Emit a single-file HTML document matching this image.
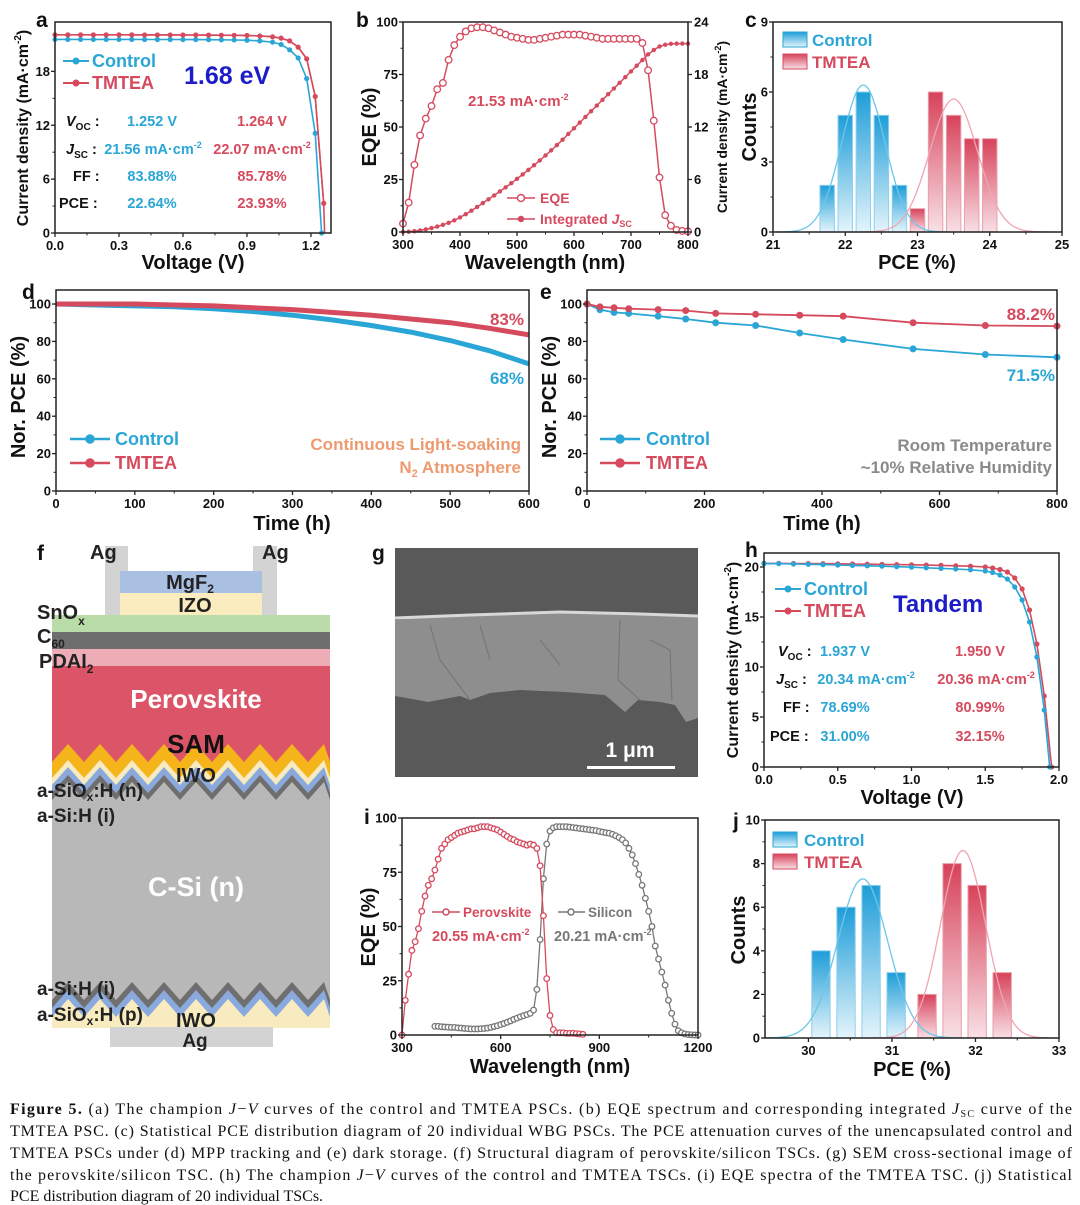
<!DOCTYPE html>
<html><head><meta charset="utf-8"><style>
html,body{margin:0;padding:0;background:#fff}
svg{display:block;font-family:"Liberation Sans",Arial,sans-serif;font-weight:bold}
.cap{font-family:"Liberation Serif",serif;font-weight:normal;font-size:16px;fill:#111}
</style></head><body>
<svg id="fig" xmlns="http://www.w3.org/2000/svg" width="1080" height="1205" viewBox="0 0 1080 1205">
<defs>
<linearGradient id="gb" x1="0" y1="0" x2="0" y2="1"><stop offset="0" stop-color="#1e9dd8"/><stop offset="1" stop-color="#e4f4fb"/></linearGradient>
<linearGradient id="gr" x1="0" y1="0" x2="0" y2="1"><stop offset="0" stop-color="#d7425a"/><stop offset="1" stop-color="#f8e0e5"/></linearGradient>
</defs>
<g id="marks"></g>

<g font-size="21" fill="#111">
<text x="36" y="27">a</text>
<text x="356" y="27">b</text>
<text x="745" y="27">c</text>
<text x="22" y="299">d</text>
<text x="540" y="299">e</text>
<text x="37" y="560">f</text>
<text x="372" y="560">g</text>
<text x="745" y="557">h</text>
<text x="364" y="824">i</text>
<text x="733" y="828">j</text>
</g>

<g font-size="20" fill="#111" text-anchor="middle">
<text x="193" y="269">Voltage (V)</text>
<text x="545" y="269">Wavelength (nm)</text>
<text x="917" y="269">PCE (%)</text>
<text x="292" y="530">Time (h)</text>
<text x="822" y="530">Time (h)</text>
<text x="912" y="804">Voltage (V)</text>
<text x="550" y="1073">Wavelength (nm)</text>
<text x="912" y="1076">PCE (%)</text>
<text transform="translate(28,128) rotate(-90)" font-size="16">Current density (mA·cm<tspan font-size="10" dy="-7">-2</tspan><tspan dy="7">)</tspan></text>
<text transform="translate(376,127) rotate(-90)">EQE (%)</text>
<text transform="translate(727,127) rotate(-90)" font-size="14">Current density (mA·cm<tspan font-size="9" dy="-6">-2</tspan><tspan dy="6">)</tspan></text>
<text transform="translate(756,127) rotate(-90)">Counts</text>
<text transform="translate(25,397) rotate(-90)">Nor. PCE (%)</text>
<text transform="translate(556,397) rotate(-90)">Nor. PCE (%)</text>
<text transform="translate(738,660) rotate(-90)" font-size="16">Current density (mA·cm<tspan font-size="10" dy="-7">-2</tspan><tspan dy="7">)</tspan></text>
<text transform="translate(375,927) rotate(-90)">EQE (%)</text>
<text transform="translate(745,930) rotate(-90)">Counts</text>
</g>

<g font-size="14.5">
<g stroke="#2aa6d6" stroke-width="2"><line x1="63" y1="61" x2="89" y2="61"/><circle cx="76" cy="61" r="2.5" fill="#2aa6d6"/></g>
<text x="92" y="67" font-size="18" fill="#2aa6d6">Control</text>
<g stroke="#d64a5e" stroke-width="2"><line x1="63" y1="83" x2="89" y2="83"/><circle cx="76" cy="83" r="2.5" fill="#d64a5e"/></g>
<text x="92" y="89" font-size="18" fill="#d64a5e">TMTEA</text>
<text x="184" y="84" font-size="25" fill="#1c1cc8">1.68 eV</text>
<text x="66" y="126" fill="#111"><tspan font-style="italic">V</tspan><tspan font-size="10" dy="4">OC</tspan><tspan dy="-4"> :</tspan></text>
<text x="66" y="154" fill="#111"><tspan font-style="italic">J</tspan><tspan font-size="10" dy="4">SC</tspan><tspan dy="-4"> :</tspan></text>
<text x="73" y="181" fill="#111">FF :</text>
<text x="59" y="208" fill="#111">PCE :</text>
<g fill="#2aa6d6" text-anchor="middle">
<text x="152" y="126">1.252 V</text>
<text x="153" y="154">21.56 mA·cm<tspan font-size="9" dy="-6">-2</tspan></text>
<text x="152" y="181">83.88%</text>
<text x="152" y="208">22.64%</text></g>
<g fill="#d64a5e" text-anchor="middle">
<text x="262" y="126">1.264 V</text>
<text x="262" y="154">22.07 mA·cm<tspan font-size="9" dy="-6">-2</tspan></text>
<text x="262" y="181">85.78%</text>
<text x="262" y="208">23.93%</text></g>
</g>

<text x="468" y="106" font-size="15" fill="#d64a5e">21.53 mA·cm<tspan font-size="9" dy="-6">-2</tspan></text>
<g stroke="#d64a5e" stroke-width="1.5" fill="#fff"><line x1="507" y1="198" x2="535" y2="198"/><circle cx="521" cy="198" r="3.5"/></g>
<text x="540" y="203" font-size="14" fill="#d64a5e">EQE</text>
<g stroke="#d64a5e" stroke-width="1.5"><line x1="507" y1="219" x2="535" y2="219"/><circle cx="521" cy="219" r="2.5" fill="#d64a5e"/></g>
<text x="540" y="224" font-size="14" fill="#d64a5e">Integrated <tspan font-style="italic">J</tspan><tspan font-size="9" dy="3">SC</tspan></text>

<rect x="783" y="32" width="24" height="15" fill="url(#gb)" stroke="#2aa6d6"/>
<text x="812" y="46" font-size="17" fill="#2aa6d6">Control</text>
<rect x="783" y="54" width="24" height="15" fill="url(#gr)" stroke="#d64a5e"/>
<text x="812" y="68" font-size="17" fill="#d64a5e">TMTEA</text>

<text x="524" y="325" font-size="17" fill="#d64a5e" text-anchor="end">83%</text>
<text x="524" y="384" font-size="17" fill="#2aa6d6" text-anchor="end">68%</text>
<g stroke="#2aa6d6" stroke-width="2.5"><line x1="70" y1="439" x2="110" y2="439"/><circle cx="90" cy="439" r="3.5" fill="#2aa6d6"/></g>
<text x="115" y="445" font-size="18" fill="#2aa6d6">Control</text>
<g stroke="#d64a5e" stroke-width="2.5"><line x1="70" y1="463" x2="110" y2="463"/><circle cx="90" cy="463" r="3.5" fill="#d64a5e"/></g>
<text x="115" y="469" font-size="18" fill="#d64a5e">TMTEA</text>
<text x="521" y="450" font-size="17" fill="#ee9a70" text-anchor="end">Continuous Light-soaking</text>
<text x="521" y="473" font-size="17" fill="#ee9a70" text-anchor="end">N<tspan font-size="11" dy="4">2</tspan><tspan dy="-4"> Atmosphere</tspan></text>

<text x="1055" y="320" font-size="17" fill="#d64a5e" text-anchor="end">88.2%</text>
<text x="1055" y="381" font-size="17" fill="#2aa6d6" text-anchor="end">71.5%</text>
<g stroke="#2aa6d6" stroke-width="2.5"><line x1="600" y1="439" x2="640" y2="439"/><circle cx="620" cy="439" r="3.5" fill="#2aa6d6"/></g>
<text x="646" y="445" font-size="18" fill="#2aa6d6">Control</text>
<g stroke="#d64a5e" stroke-width="2.5"><line x1="600" y1="463" x2="640" y2="463"/><circle cx="620" cy="463" r="3.5" fill="#d64a5e"/></g>
<text x="646" y="469" font-size="18" fill="#d64a5e">TMTEA</text>
<text x="1052" y="451" font-size="17" fill="#8a8a8a" text-anchor="end">Room Temperature</text>
<text x="1052" y="473" font-size="17" fill="#8a8a8a" text-anchor="end">~10% Relative Humidity</text>

<g>
<rect x="105" y="546" width="23" height="70" fill="#d3d3d3"/>
<rect x="253" y="546" width="24" height="70" fill="#d3d3d3"/>
<rect x="120" y="571" width="142" height="22" fill="#a9c0e2"/>
<rect x="120" y="593" width="142" height="23" fill="#fbecc0"/>
<rect x="52" y="615" width="278" height="17" fill="#b9dca8"/>
<rect x="52" y="632" width="278" height="17" fill="#6e6e6e"/>
<rect x="52" y="649" width="278" height="17" fill="#eeadb6"/>
<rect x="52" y="666" width="278" height="110" fill="#dc5467"/>
<rect x="52" y="770" width="278" height="250" fill="#b8b8b8"/>
<g id="zig"></g>
<rect x="110" y="1027" width="163" height="20" fill="#d3d3d3"/>
</g>
<g font-size="20" fill="#222">
<text x="90" y="559">Ag</text>
<text x="262" y="559">Ag</text>
<text x="190" y="589" text-anchor="middle">MgF<tspan font-size="12" dy="4">2</tspan></text>
<text x="195" y="612" text-anchor="middle">IZO</text>
<text x="37" y="619">SnO<tspan font-size="12" dy="6">x</tspan></text>
<text x="37" y="643">C<tspan font-size="12" dy="5">60</tspan></text>
<text x="39" y="668">PDAI<tspan font-size="12" dy="5">2</tspan></text>
<text x="196" y="708" font-size="26" fill="#fff" text-anchor="middle">Perovskite</text>
<text x="196" y="753" font-size="26" fill="#111" text-anchor="middle">SAM</text>
<text x="196" y="782" font-size="20" text-anchor="middle">IWO</text>
<text x="37" y="797" font-size="19">a-SiO<tspan font-size="12" dy="4">x</tspan><tspan dy="-4">:H (n)</tspan></text>
<text x="37" y="822" font-size="19">a-Si:H (i)</text>
<text x="196" y="896" font-size="27" fill="#fff" text-anchor="middle">C-Si (n)</text>
<text x="37" y="995" font-size="19">a-Si:H (i)</text>
<text x="37" y="1021" font-size="19">a-SiO<tspan font-size="12" dy="4">x</tspan><tspan dy="-4">:H (p)</tspan></text>
<text x="196" y="1027" font-size="20" text-anchor="middle">IWO</text>
<text x="195" y="1047" font-size="19" text-anchor="middle">Ag</text>
</g>

<g>
<rect x="395" y="548" width="303" height="229" fill="#595959"/>
<path d="M395 620 L430 617 L500 614 L560 613 L620 615 L698 616 L698 718 L686 722 L675 705 L660 702 L638 700 L625 712 L605 695 L565 692 L520 690 L490 693 L470 700 L460 696 L428 702 L418 700 L395 696 Z" fill="#8e8e8e"/>
<path d="M395 618 L470 615 L560 612 L640 614 L698 616" stroke="#d8d8d8" stroke-width="3" fill="none"/>
<path d="M430 625 L440 660 L470 700 M480 625 L490 660 M540 640 L560 665 M620 620 L618 680 L640 700 M650 640 L670 650 L672 700" stroke="#777" stroke-width="1.2" fill="none"/>
<rect x="587" y="766" width="88" height="3" fill="#fff"/>
<text x="630" y="757" font-size="21" fill="#fff" text-anchor="middle">1 μm</text>
</g>

<g font-size="14.5">
<g stroke="#2aa6d6" stroke-width="2"><line x1="775" y1="589" x2="801" y2="589"/><circle cx="788" cy="589" r="2.5" fill="#2aa6d6"/></g>
<text x="804" y="595" font-size="18" fill="#2aa6d6">Control</text>
<g stroke="#d64a5e" stroke-width="2"><line x1="775" y1="611" x2="801" y2="611"/><circle cx="788" cy="611" r="2.5" fill="#d64a5e"/></g>
<text x="804" y="617" font-size="18" fill="#d64a5e">TMTEA</text>
<text x="893" y="612" font-size="24" fill="#1c1cc8">Tandem</text>
<text x="778" y="656" fill="#111"><tspan font-style="italic">V</tspan><tspan font-size="10" dy="4">OC</tspan><tspan dy="-4"> :</tspan></text>
<text x="776" y="684" fill="#111"><tspan font-style="italic">J</tspan><tspan font-size="10" dy="4">SC</tspan><tspan dy="-4"> :</tspan></text>
<text x="783" y="712" fill="#111">FF :</text>
<text x="770" y="741" fill="#111">PCE :</text>
<g fill="#2aa6d6" text-anchor="middle">
<text x="845" y="656">1.937 V</text>
<text x="866" y="684">20.34 mA·cm<tspan font-size="9" dy="-6">-2</tspan></text>
<text x="845" y="712">78.69%</text>
<text x="845" y="741">31.00%</text></g>
<g fill="#d64a5e" text-anchor="middle">
<text x="980" y="656">1.950 V</text>
<text x="986" y="684">20.36 mA·cm<tspan font-size="9" dy="-6">-2</tspan></text>
<text x="980" y="712">80.99%</text>
<text x="980" y="741">32.15%</text></g>
</g>

<g stroke="#d64a5e" stroke-width="1.5" fill="#fff"><line x1="432" y1="912" x2="460" y2="912"/><circle cx="446" cy="912" r="3"/></g>
<text x="463" y="917" font-size="13.5" fill="#d64a5e">Perovskite</text>
<text x="432" y="941" font-size="14.5" fill="#d64a5e">20.55 mA·cm<tspan font-size="9" dy="-6">-2</tspan></text>
<g stroke="#777" stroke-width="1.5" fill="#fff"><line x1="558" y1="912" x2="585" y2="912"/><circle cx="571" cy="912" r="3"/></g>
<text x="588" y="917" font-size="13.5" fill="#777">Silicon</text>
<text x="554" y="941" font-size="14.5" fill="#777">20.21 mA·cm<tspan font-size="9" dy="-6">-2</tspan></text>

<rect x="773" y="832" width="24" height="15" fill="url(#gb)" stroke="#2aa6d6"/>
<text x="804" y="846" font-size="17" fill="#2aa6d6">Control</text>
<rect x="773" y="854" width="24" height="15" fill="url(#gr)" stroke="#d64a5e"/>
<text x="804" y="868" font-size="17" fill="#d64a5e">TMTEA</text>

<g>
<text class="cap" x="10" y="1114" textLength="1062" lengthAdjust="spacing"><tspan font-weight="bold">Figure 5.</tspan> (a) The champion <tspan font-style="italic">J</tspan>−<tspan font-style="italic">V</tspan> curves of the control and TMTEA PSCs. (b) EQE spectrum and corresponding integrated <tspan font-style="italic">J</tspan><tspan font-size="10" dy="3">SC</tspan><tspan dy="-3"> curve of the</tspan></text>
<text class="cap" x="10" y="1136" textLength="1062" lengthAdjust="spacing">TMTEA PSC. (c) Statistical PCE distribution diagram of 20 individual WBG PSCs. The PCE attenuation curves of the unencapsulated control and</text>
<text class="cap" x="10" y="1158" textLength="1062" lengthAdjust="spacing">TMTEA PSCs under (d) MPP tracking and (e) dark storage. (f) Structural diagram of perovskite/silicon TSCs. (g) SEM cross-sectional image of</text>
<text class="cap" x="10" y="1180" textLength="1062" lengthAdjust="spacing">the perovskite/silicon TSC. (h) The champion <tspan font-style="italic">J</tspan>−<tspan font-style="italic">V</tspan> curves of the control and TMTEA TSCs. (i) EQE spectra of the TMTEA TSC. (j) Statistical</text>
<text class="cap" x="10" y="1201">PCE distribution diagram of 20 individual TSCs.</text>
</g>
</svg>

<script>
// ===== data =====
const aVctrl=[0,0.06,0.12,0.18,0.24,0.30,0.36,0.42,0.48,0.54,0.60,0.66,0.72,0.78,0.84,0.90,0.96,1.02,1.06,1.10,1.14,1.18,1.22,1.25];
const aJctrl=[21.56,21.56,21.56,21.56,21.56,21.56,21.56,21.55,21.55,21.55,21.54,21.54,21.53,21.52,21.5,21.47,21.4,21.25,21.0,20.4,19.5,17.2,11.1,0];
const aVtm=[0,0.06,0.12,0.18,0.24,0.30,0.36,0.42,0.48,0.54,0.60,0.66,0.72,0.78,0.84,0.90,0.96,1.02,1.06,1.10,1.14,1.18,1.22,1.26];
const aJtm=[22.07,22.07,22.07,22.07,22.07,22.07,22.07,22.06,22.06,22.06,22.05,22.05,22.04,22.03,22.02,22.0,21.95,21.85,21.7,21.4,20.7,19.4,15.2,3.3];
const aXticks=['0.0','0.3','0.6','0.9','1.2'];
const aYticks=['0','6','12','18'];
const bEQE=[4,14,32,46,54,60,68,71,82,89,93,95.5,97,97.5,97.5,97,96,95,94,93,92.5,92,91.5,91.5,92,92.5,93,93.5,94,94,94,94,93.5,93,92.5,92,92,92,92,92,92,92,90,77,53,26,8,3,1,0.5,0.3];
const bJint=[0,0.03,0.09,0.18,0.3,0.45,0.62,0.82,1.05,1.33,1.67,2.03,2.43,2.86,3.3,3.74,4.18,4.64,5.1,5.58,6.08,6.58,7.1,7.63,8.18,8.75,9.33,9.93,10.55,11.2,11.85,12.5,13.15,13.8,14.45,15.1,15.75,16.4,17.05,17.7,18.35,19.0,19.65,20.3,20.8,21.2,21.4,21.5,21.53,21.53,21.53];
const bXticks=['300','400','500','600','700','800'];
const bYticks=['0','25','50','75','100'];
const bY2ticks=['0','6','12','18','24'];
const cCtrlBins=[21.75,22.0,22.25,22.5,22.75];
const cCtrlCounts=[2,5,6,5,2];
const cTmBins=[23.0,23.25,23.5,23.75,24.0];
const cTmCounts=[1,6,5,4,4];
const cCtrlFit=[6.3,22.25,0.3];
const cTmFit=[5.7,23.5,0.33];
const cXticks=['21','22','23','24','25'];
const cYticks=['0','3','6','9'];
const dTime=[0,50,100,150,200,250,300,350,400,450,500,550,600];
const dCtrl=[100,99.5,99,98.5,97.5,96,94,91.5,88.5,85,80.5,75,68];
const dTm=[100,100,100,99.5,99,98,97,95.5,94,92,90,87,83.5];
const dXticks=['0','100','200','300','400','500','600'];
const dYticks=['0','20','40','60','80','100'];
const eTime=[0,22,46,71,121,168,219,287,362,436,555,678,800];
const eCtrl=[100,97,95.5,95,93.5,92,90,88.5,84.5,81,76,73,71.5];
const eTm=[100,98.5,98,97.5,97,96.5,95,94.5,94,93.5,90,88.5,88.2];
const eXticks=['0','200','400','600','800'];
const hVctrl=[0,0.1,0.2,0.3,0.4,0.5,0.6,0.7,0.8,0.9,1.0,1.1,1.2,1.3,1.4,1.5,1.55,1.6,1.65,1.7,1.75,1.8,1.85,1.9,1.937];
const hJctrl=[20.34,20.33,20.3,20.27,20.24,20.2,20.16,20.12,20.08,20.03,19.98,19.92,19.86,19.8,19.72,19.6,19.45,19.2,18.8,18.0,16.7,14.5,11.0,5.7,0];
const hVtm=[0,0.1,0.2,0.3,0.4,0.5,0.6,0.7,0.8,0.9,1.0,1.1,1.2,1.3,1.4,1.5,1.55,1.6,1.65,1.7,1.75,1.8,1.85,1.9,1.95];
const hJtm=[20.36,20.36,20.35,20.34,20.33,20.32,20.3,20.28,20.26,20.24,20.22,20.19,20.16,20.12,20.08,20.0,19.9,19.75,19.5,18.9,17.8,15.7,12.3,7.1,0];
const hXticks=['0.0','0.5','1.0','1.5','2.0'];
const hYticks=['0','5','10','15','20'];
const iPeroEQE=[0,16,28,39,43,49,57,64,69,72,76,81,86,88,90,91,92,93,93.5,94,94.5,95,95,95.5,96,96,96,95.5,95,94.5,93.5,92.5,91.5,90.5,90,89,88.5,88,87.5,88,87.5,86,78,55,26,9,2.5,1,1,1,0.8,0.8,0.8,0.6,0.5,0.3];
const iSiEQE=[4,4,3.8,3.7,3.6,3.5,3.5,3.3,3.2,3,2.9,2.8,2.8,2.8,2.9,3,3.2,3.5,3.9,4.3,4.8,5.3,5.9,6.5,7.2,7.8,8.4,8.9,9.4,10,11.5,21,44,72,88,94,95.5,96,96,96,96,95.8,95.6,95.4,95.2,95,94.8,94.6,94.4,94.2,93.8,93.5,93.2,93,92.5,91.8,91,90,88.5,86,83,79,74,69,63,57,50,41,35,29,23,16,10,5,2,1,0.5,0.2,0.1,0,0];
const iXticks=['300','600','900','1200'];
const iYticks=['0','25','50','75','100'];
const jCtrlBins=[30.15,30.45,30.75,31.05];
const jCtrlCounts=[4,6,7,3];
const jTmBins=[31.42,31.72,32.02,32.32];
const jTmCounts=[2,8,7,3];
const jCtrlFit=[7.3,30.65,0.3];
const jTmFit=[8.6,31.85,0.27];
const jXticks=['30','31','32','33'];
const jYticks=['0','2','4','6','8','10'];

// ===== drawing =====
const NS='http://www.w3.org/2000/svg';
const root=document.getElementById('marks');
const BLUE='#2aa6d6', RED='#d64a5e', GRAY='#777';
function mk(tag,attrs,parent){const e=document.createElementNS(NS,tag);for(const k in attrs)e.setAttribute(k,attrs[k]);(parent||root).appendChild(e);return e;}
function sx(P,v){return P.x0+(v-P.xmin)/(P.xmax-P.xmin)*(P.x1-P.x0);}
function sy(P,v){return P.y0-(v-P.ymin)/(P.ymax-P.ymin)*(P.y0-P.y1);}
function sy2(P,v){return P.y0-v/P.y2max*(P.y0-P.y1);}

function axes(P,xt,yt,name){
  const g=mk('g',{});
  
  
  const fr=mk('rect',{x:P.x0,y:P.y1,width:P.x1-P.x0,height:P.y0-P.y1,fill:'none',stroke:'#222','stroke-width':1.5},g);
  
  
  xt.forEach((s,i)=>{
    const v=parseFloat(s), x=sx(P,v);
    mk('line',{x1:x,y1:P.y0,x2:x,y2:P.y0+4,stroke:'#222','stroke-width':1.3},g);
    if(i<xt.length-1){const xm=sx(P,(v+parseFloat(xt[i+1]))/2);mk('line',{x1:xm,y1:P.y0,x2:xm,y2:P.y0+2.5,stroke:'#222','stroke-width':1},g);}
    const t=mk('text',{x:x,y:P.y0+17,'font-size':13,'text-anchor':'middle',fill:'#111'},g);
    
    
    t.textContent=s;
  });
  yt.forEach((s,i)=>{
    const v=parseFloat(s), y=sy(P,v);
    mk('line',{x1:P.x0,y1:y,x2:P.x0-4,y2:y,stroke:'#222','stroke-width':1.3},g);
    if(i<yt.length-1){const ym=sy(P,(v+parseFloat(yt[i+1]))/2);mk('line',{x1:P.x0,y1:ym,x2:P.x0-2.5,y2:ym,stroke:'#222','stroke-width':1},g);}
    const t=mk('text',{x:P.x0-5,y:y+4.5,'font-size':13,'text-anchor':'end',fill:'#111'},g);
    
    
    t.textContent=s;
  });
}
function series(P,xs,ys,color,opt,name){
  const g=mk('g',{});
  
  
  const yf=opt.right?(v=>sy2(P,v)):(v=>sy(P,v));
  const pts=xs.slice(0,ys.length).map((x,i)=>sx(P,x).toFixed(1)+','+yf(ys[i]).toFixed(1)).join(' ');
  mk('polyline',{points:pts,fill:'none',stroke:color,'stroke-width':opt.w||1.5},g);
  if(opt.r){xs.slice(0,ys.length).forEach((x,i)=>{
    const c=mk('circle',{cx:sx(P,x),cy:yf(ys[i]),r:opt.r,fill:opt.open?'#fff':color,stroke:color,'stroke-width':opt.open?1.3:0},g);
    
    
  });}
}
function bars(P,bins,counts,w,fill,stroke,name){
  bins.forEach((b,i)=>{
    const x=sx(P,b-w/2), x2=sx(P,b+w/2), y=sy(P,counts[i]);
    const r=mk('rect',{x:x,y:y,width:x2-x,height:P.y0-y,fill:fill,stroke:stroke,'stroke-width':1});
    
    
  });
}
function fit(P,f,color,name){
  const pts=[];
  for(let v=f[1]-4*f[2];v<=f[1]+4*f[2];v+=0.02){pts.push(sx(P,v).toFixed(1)+','+sy(P,f[0]*Math.exp(-0.5*((v-f[1])/f[2])**2)).toFixed(1));}
  const p=mk('polyline',{points:pts.join(' '),fill:'none',stroke:color,'stroke-width':1.3});
  
  
}
const grid=(start,step,n)=>Array.from({length:n},(_,i)=>start+step*i);

const Pa={x0:55,x1:331,y0:233,y1:22,xmin:0,xmax:1.294,ymin:0,ymax:23.5};
series(Pa,aVctrl,aJctrl,BLUE,{r:2.6,w:1.6},'a-control-jv');
series(Pa,aVtm.concat([1.264]),aJtm.concat([0]),RED,{w:1.6},'a-tmtea-jv-line');
series(Pa,aVtm,aJtm,RED,{r:2.6,w:0},'a-tmtea-jv');
axes(Pa,aXticks,aYticks,'a');

const Pb={x0:403,x1:688,y0:232,y1:22,xmin:300,xmax:800,ymin:0,ymax:100,y2max:24};
const bWl=grid(300,10,bEQE.length);
series(Pb,bWl,bEQE,RED,{r:3.3,open:true,w:1.5},'b-eqe');
series(Pb,bWl,bJint,RED,{r:2.2,w:1.5,right:true},'b-integrated-jsc');
axes(Pb,bXticks,bYticks,'b');
bY2ticks.forEach(s=>{
  const y=sy2(Pb,parseFloat(s));
  mk('line',{x1:Pb.x1,y1:y,x2:Pb.x1+4,y2:y,stroke:'#222','stroke-width':1.3});
  const t=mk('text',{x:Pb.x1+6,y:y+4.5,'font-size':13,fill:'#111'});
  
  
  t.textContent=s;
});

const Pc={x0:773,x1:1062,y0:232,y1:22,xmin:21,xmax:25,ymin:0,ymax:9};
bars(Pc,cCtrlBins,cCtrlCounts,0.2,'url(#gb)','#8fd0ee','c-control');
bars(Pc,cTmBins,cTmCounts,0.2,'url(#gr)','#eaa0ac','c-tmtea');
fit(Pc,cCtrlFit,'#6cc6ea','c-control-fit');
fit(Pc,cTmFit,'#f0a5b2','c-tmtea-fit');
axes(Pc,cXticks,cYticks,'c');

const Pd={x0:56,x1:529,y0:491,y1:290,xmin:0,xmax:600,ymin:0,ymax:107.5};
series(Pd,dTime,dCtrl,BLUE,{w:5},'d-control');
series(Pd,dTime,dTm,RED,{w:5},'d-tmtea');
axes(Pd,dXticks,dYticks,'d');

const Pe={x0:587,x1:1057,y0:491,y1:290,xmin:0,xmax:800,ymin:0,ymax:107.5};
series(Pe,eTime,eCtrl,BLUE,{r:3.5,w:1.8},'e-control');
series(Pe,eTime,eTm,RED,{r:3.5,w:1.8},'e-tmtea');
axes(Pe,eXticks,dYticks,'e');

const Ph={x0:764,x1:1059,y0:767,y1:553,xmin:0,xmax:2.0,ymin:0,ymax:21.4};
series(Ph,hVtm,hJtm,RED,{r:2.6,w:1.6},'h-tmtea-jv');
series(Ph,hVctrl,hJctrl,BLUE,{r:2.6,w:1.6},'h-control-jv');
axes(Ph,hXticks,hYticks,'h');

const Pi={x0:402,x1:698,y0:1035,y1:818,xmin:300,xmax:1200,ymin:0,ymax:100};
series(Pi,grid(400,10,iSiEQE.length),iSiEQE,GRAY,{r:2.8,open:true,w:1.3},'i-silicon-eqe');
series(Pi,grid(300,10,iPeroEQE.length),iPeroEQE,RED,{r:2.8,open:true,w:1.3},'i-perovskite-eqe');
axes(Pi,iXticks,iYticks,'i');

const Pj={x0:765,x1:1059,y0:1038,y1:820,xmin:29.48,xmax:33,ymin:0,ymax:10};
bars(Pj,jCtrlBins,jCtrlCounts,0.22,'url(#gb)','#8fd0ee','j-control');
bars(Pj,jTmBins,jTmCounts,0.22,'url(#gr)','#eaa0ac','j-tmtea');
fit(Pj,jCtrlFit,'#6cc6ea','j-control-fit');
fit(Pj,jTmFit,'#f0a5b2','j-tmtea-fit');
axes(Pj,jXticks,jYticks,'j');

const zg=document.getElementById('zig');
function zig(y0,amp,color,bottom,name){
  let d='M52 '+bottom+' L52 '+(y0+amp);
  let k=0;
  for(let x=52;x<=330;x+=16){d+=' L'+x+' '+(k%2?y0:y0+amp);k++;}
  d+=' L330 '+(y0+amp)+' L330 '+bottom+' Z';
  const p=mk('path',{d:d,fill:color},zg);
  
  
}
zig(744,18,'#f5b41a',1000,'sam-layer');
zig(760,18,'#f8ebbf',1000,'iwo-top-layer');
zig(767,18,'#8aa9dc',1000,'a-siox-n-layer');
zig(775,18,'#6f6f6f',1000,'a-si-i-top-layer');
zig(782,18,'#b8b8b8',1000,'c-si-body');
zig(982,18,'#6f6f6f',1040,'a-si-i-bottom-layer');
zig(990,18,'#8aa9dc',1040,'a-siox-p-layer');
zig(999,18,'#f8ebbf',1040,'iwo-bottom-layer');
const wb=mk('rect',{x:40,y:1028,width:300,height:30,fill:'#fff'},zg);


</script>
</body></html>
